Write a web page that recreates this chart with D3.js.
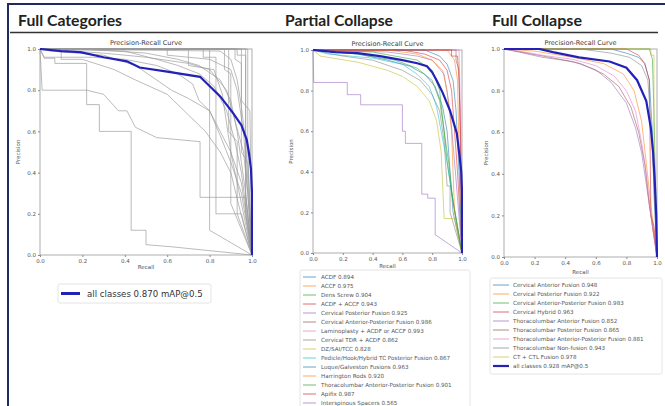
<!DOCTYPE html>
<html><head><meta charset="utf-8">
<script src="https://cdn.jsdelivr.net/npm/d3@7/dist/d3.min.js"></script>
<style>
html,body{margin:0;padding:0;background:#fff;}
svg{display:block;font-family:"DejaVu Sans",sans-serif;}
</style></head>
<body>
<svg id="chart" width="665" height="406"></svg>
<script>
// ---------------- DATA ----------------
const panelTitles = ["Full Categories", "Partial Collapse", "Full Collapse"];
const axisTicks = [0, 0.2, 0.4, 0.6, 0.8, 1.0];

// Panel 1: Full Categories (grey per-class curves, recall/precision pairs)
const fullCatCurves = [
  [[0,1],[0.01,0.8],[0.22,0.8],[0.22,0.73],[0.28,0.73],[0.28,0.6],[0.43,0.6],[0.43,0.12],[0.5,0.12],[0.5,0.05],[0.62,0.04],[1,0]],
  [[0,1],[0.02,0.955],[0.07,0.955],[0.07,0.93],[0.22,0.93],[0.22,0.8],[0.3,0.78],[0.37,0.7],[0.41,0.7],[0.45,0.62],[0.55,0.57],[0.755,0.55],[0.755,0.28],[0.97,0.28],[1,0]],
  [[0,1],[0.05,0.99],[0.3,0.97],[0.45,0.92],[0.55,0.85],[0.62,0.8],[0.7,0.76],[0.8,0.7],[0.85,0.58],[0.9,0.45],[0.95,0.3],[1,0]],
  [[0,1],[0.4,0.99],[0.55,0.95],[0.65,0.92],[0.75,0.88],[0.82,0.82],[0.88,0.7],[0.92,0.55],[0.95,0.4],[1,0]],
  [[0,1],[0.77,1],[0.77,0.96],[0.83,0.96],[0.83,0.2],[0.95,0.2],[1,0]],
  [[0,1],[0.87,1],[0.87,0.9],[0.9,0.88],[0.9,0.25],[1,0]],
  [[0,1],[0.92,1],[0.92,0.95],[0.95,0.93],[0.95,0.5],[0.98,0.45],[1,0]],
  [[0,1],[0.6,1],[0.6,0.97],[0.8,0.95],[0.9,0.9],[0.93,0.8],[0.96,0.6],[1,0]],
  [[0,1],[0.3,0.98],[0.5,0.96],[0.7,0.93],[0.8,0.9],[0.88,0.8],[0.92,0.65],[0.96,0.5],[0.98,0.3],[1,0]],
  [[0,1],[0.02,0.96],[0.25,0.96],[0.4,0.95],[0.55,0.92],[0.65,0.88],[0.72,0.83],[0.75,0.75],[0.8,0.7],[0.85,0.6],[0.9,0.5],[0.95,0.35],[1,0]],
  [[0,1],[0.8,1],[0.8,0.12],[1,0]],
  [[0,1],[0.93,1],[0.93,0.97],[0.97,0.97],[0.97,0.2],[1,0]],
  [[0,1],[0.97,1],[0.97,0.3],[1,0]],
  [[0,1],[0.85,0.99],[0.9,0.95],[0.93,0.85],[0.95,0.72],[0.97,0.55],[1,0]],
  [[0,1],[0.2,1],[0.5,0.98],[0.65,0.95],[0.75,0.92],[0.85,0.85],[0.9,0.75],[0.93,0.6],[0.95,0.45],[0.97,0.3],[1,0]],
  [[0,1],[0.7,1],[0.7,0.92],[0.82,0.9],[0.86,0.78],[0.9,0.5],[0.93,0.35],[1,0]],
  [[0,1],[0.1,1],[0.1,0.95],[0.2,0.95],[0.35,0.9],[0.45,0.85],[0.6,0.78],[0.7,0.68],[0.78,0.6],[0.85,0.5],[0.9,0.4],[0.95,0.19],[1,0]],
  [[0,1],[0.89,1],[0.89,0.6],[0.93,0.55],[0.93,0.2],[1,0]],
  [[0,1],[0.98,1],[0.98,0.5],[1,0]],
  [[0,1],[0.95,1],[0.95,0.75],[0.99,0.7],[1,0]]
];
const fullCatAll = [[0,1],[0.1,0.99],[0.19,0.985],[0.3,0.96],[0.41,0.94],[0.47,0.91],[0.6,0.89],[0.755,0.865],[0.79,0.83],[0.85,0.77],[0.91,0.69],[0.95,0.63],[0.975,0.56],[0.985,0.5],[0.995,0.42],[1,0.3],[1,0]];
const fullCatAllLabel = "all classes 0.870 mAP@0.5";

// Panel 2: Partial Collapse
const partialNames = ["ACDF","ACCF","Dens Screw","ACDF + ACCF","Cervical Posterior Fusion","Cervical Anterior-Posterior Fusion","Laminoplasty + ACDF or ACCF","Cervical TDR + ACDF","DZ/SAI/TCC","Pedicle/Hook/Hybrid TC Posterior Fusion","Luque/Galveston Fusions","Harrington Rods","Thoracolumbar Anterior-Posterior Fusion","Apifix","Interspinous Spacers"];
const partialAP = [0.894,0.975,0.904,0.943,0.925,0.986,0.993,0.862,0.828,0.867,0.963,0.920,0.901,0.987,0.565];
const partialCurves = [
  [[0,1],[0.3,0.98],[0.5,0.95],[0.65,0.92],[0.75,0.88],[0.82,0.82],[0.87,0.72],[0.9,0.6],[0.92,0.4],[0.94,0.2],[1,0]],
  [[0,1],[0.9,1],[0.92,0.98],[0.95,0.95],[0.97,0.85],[0.98,0.5],[1,0]],
  [[0,1],[0.4,0.99],[0.55,0.97],[0.7,0.95],[0.8,0.9],[0.85,0.8],[0.88,0.6],[0.9,0.45],[0.93,0.3],[1,0]],
  [[0,1],[0.6,1],[0.75,0.98],[0.85,0.95],[0.9,0.9],[0.93,0.8],[0.95,0.6],[0.97,0.4],[1,0]],
  [[0,1],[0.5,0.99],[0.7,0.97],[0.8,0.95],[0.88,0.88],[0.92,0.7],[0.95,0.45],[1,0]],
  [[0,1],[0.96,1],[0.96,0.95],[0.98,0.9],[0.99,0.5],[1,0]],
  [[0,1],[0.98,1],[0.99,0.7],[1,0]],
  [[0,1],[0.2,0.97],[0.4,0.95],[0.6,0.9],[0.72,0.85],[0.8,0.78],[0.85,0.7],[0.88,0.55],[0.9,0.33],[0.92,0.33],[0.92,0.2],[1,0]],
  [[0,1],[0.05,0.97],[0.3,0.94],[0.5,0.9],[0.6,0.87],[0.7,0.82],[0.78,0.75],[0.83,0.65],[0.86,0.5],[0.88,0.17],[0.95,0.17],[1,0]],
  [[0,1],[0.1,0.98],[0.4,0.96],[0.6,0.93],[0.7,0.88],[0.78,0.82],[0.83,0.72],[0.86,0.6],[0.9,0.45],[0.93,0.3],[1,0]],
  [[0,1],[0.75,1],[0.85,0.97],[0.9,0.93],[0.94,0.85],[0.96,0.7],[0.98,0.4],[1,0]],
  [[0,1],[0.5,1],[0.7,0.98],[0.8,0.95],[0.87,0.9],[0.9,0.8],[0.93,0.6],[0.95,0.2],[1,0]],
  [[0,1],[0.3,0.98],[0.55,0.95],[0.7,0.91],[0.8,0.85],[0.85,0.75],[0.88,0.6],[0.91,0.45],[0.94,0.25],[1,0]],
  [[0,1],[0.93,1],[0.93,0.97],[0.97,0.97],[0.98,0.85],[0.99,0.6],[1,0]],
  [[0,1],[0.005,0.84],[0.23,0.84],[0.23,0.78],[0.32,0.78],[0.32,0.73],[0.6,0.73],[0.6,0.6],[0.62,0.6],[0.62,0.54],[0.73,0.54],[0.73,0.29],[0.77,0.29],[0.77,0.27],[0.82,0.27],[0.82,0.09],[1,0]]
];
const partialAll = [[0,1],[0.15,0.99],[0.3,0.985],[0.45,0.97],[0.6,0.95],[0.7,0.935],[0.765,0.92],[0.8,0.89],[0.83,0.85],[0.87,0.79],[0.92,0.7],[0.945,0.64],[0.965,0.59],[0.985,0.47],[0.995,0.4],[1,0.3],[1,0]];

// Panel 3: Full Collapse
const fullNames = ["Cervical Anterior Fusion","Cervical Posterior Fusion","Cervical Anterior-Posterior Fusion","Cervical Hybrid","Thoracolumbar Anterior Fusion","Thoracolumbar Posterior Fusion","Thoracolumbar Anterior-Posterior Fusion","Thoracolumbar Non-fusion","CT + CTL Fusion"];
const fullAP = [0.948,0.922,0.983,0.963,0.852,0.865,0.881,0.943,0.978];
const fullCurves = [
  [[0,1],[0.7,1],[0.8,0.98],[0.88,0.96],[0.92,0.93],[0.95,0.85],[0.97,0.6],[0.98,0.3],[1,0]],
  [[0,1],[0.2,0.99],[0.45,0.96],[0.65,0.93],[0.78,0.88],[0.85,0.8],[0.9,0.65],[0.93,0.45],[0.96,0.25],[1,0]],
  [[0,1],[0.95,1],[0.97,0.95],[0.98,0.7],[1,0]],
  [[0,1],[0.8,1],[0.88,0.97],[0.92,0.93],[0.95,0.85],[0.96,0.2],[0.98,0.15],[1,0]],
  [[0,1],[0.1,0.985],[0.25,0.96],[0.45,0.94],[0.6,0.9],[0.7,0.84],[0.8,0.74],[0.86,0.62],[0.9,0.5],[0.93,0.35],[0.96,0.2],[1,0]],
  [[0,1],[0.15,0.98],[0.3,0.96],[0.5,0.93],[0.65,0.88],[0.75,0.82],[0.83,0.72],[0.88,0.6],[0.92,0.45],[0.95,0.25],[1,0]],
  [[0,1],[0.1,0.99],[0.25,0.97],[0.45,0.95],[0.6,0.92],[0.72,0.87],[0.8,0.8],[0.86,0.7],[0.9,0.55],[0.93,0.4],[0.96,0.2],[1,0]],
  [[0,1],[0.5,1],[0.7,0.98],[0.82,0.96],[0.9,0.92],[0.94,0.85],[0.96,0.65],[0.98,0.35],[1,0]],
  [[0,1],[0.96,1],[0.96,0.97],[0.98,0.97],[0.98,0.5],[1,0]]
];
const fullAll = [[0,1],[0.23,1],[0.32,0.985],[0.49,0.96],[0.69,0.94],[0.8,0.91],[0.87,0.85],[0.93,0.75],[0.96,0.62],[0.975,0.5],[0.985,0.37],[0.995,0.2],[1,0]];
const fullAllAP = 0.928;

const tab10 = ["#1f77b4","#ff7f0e","#2ca02c","#d62728","#9467bd","#8c564b","#e377c2","#7f7f7f","#bcbd22","#17becf"];

// ---------------- LAYOUT ----------------
const svg = d3.select("#chart");
const navy = "#1e2b5e";
svg.append("line").attr("x1",7).attr("x2",665).attr("y1",4).attr("y2",4).attr("stroke",navy).attr("stroke-width",2);
svg.append("line").attr("x1",8).attr("x2",8).attr("y1",4).attr("y2",406).attr("stroke",navy).attr("stroke-width",2);
svg.append("line").attr("x1",10).attr("x2",658).attr("y1",32.5).attr("y2",32.5).attr("stroke","#333").attr("stroke-width",1.5);

const titleLayout = [{x:18,w:104},{x:285,w:108},{x:492,w:90}];
panelTitles.forEach((t,i)=>{
  svg.append("text").attr("x",titleLayout[i].x).attr("y",26)
    .attr("font-family","Lato, 'Open Sans', sans-serif").attr("font-weight","bold").attr("font-size",15)
    .attr("fill","#222").attr("textLength",titleLayout[i].w).attr("lengthAdjust","spacingAndGlyphs").text(t);
});

function drawPanel(box, ylabX, xlabY) {
  const x = d3.scaleLinear().domain([0,1]).range([box.x0, box.x1]);
  const y = d3.scaleLinear().domain([0,1]).range([box.y1, box.y0]);
  const g = svg.append("g");
  const fmt = d3.format(".1f");
  const ax = g.append("g").attr("transform",`translate(0,${box.y1})`)
    .call(d3.axisBottom(x).tickValues(axisTicks).tickFormat(fmt).tickSize(2).tickPadding(2));
  const ay = g.append("g").attr("transform",`translate(${box.x0},0)`)
    .call(d3.axisLeft(y).tickValues(axisTicks).tickFormat(fmt).tickSize(2).tickPadding(2));
  [ax,ay].forEach(a=>{
    a.select(".domain").remove();
    a.selectAll("line").attr("stroke","#888");
    a.selectAll("text").attr("font-size",5.5).attr("fill","#555").attr("font-family","DejaVu Sans, sans-serif");
  });
  g.append("rect").attr("x",box.x0).attr("y",box.y0).attr("width",box.x1-box.x0).attr("height",box.y1-box.y0)
    .attr("fill","none").attr("stroke","#999").attr("stroke-width",0.8);
  g.append("text").attr("x",(box.x0+box.x1)/2).attr("y",box.y0-4).attr("text-anchor","middle")
    .attr("font-size",6.5).attr("fill","#3a3a3a").text("Precision-Recall Curve");
  g.append("text").attr("x",(box.x0+box.x1)/2).attr("y",xlabY).attr("text-anchor","middle")
    .attr("font-size",5.5).attr("fill","#555").text("Recall");
  g.append("text").attr("transform",`translate(${ylabX},${(box.y0+box.y1)/2}) rotate(-90)`).attr("text-anchor","middle")
    .attr("font-size",5.5).attr("fill","#555").text("Precision");
  const clip = "clip"+Math.round(box.x0);
  svg.append("clipPath").attr("id",clip).append("rect").attr("x",box.x0-1).attr("y",box.y0-1).attr("width",box.x1-box.x0+2).attr("height",box.y1-box.y0+2);
  const curves = svg.append("g").attr("clip-path",`url(#${clip})`);
  const line = d3.line().x(d=>x(d[0])).y(d=>y(d[1]));
  return {x,y,curves,line};
}

// Panel 1
const P1 = drawPanel({x0:40,x1:252,y0:49,y1:255}, 20, 269);
fullCatCurves.forEach(c=>{
  P1.curves.append("path").attr("d",P1.line(c)).attr("fill","none").attr("stroke","#9a9a9a").attr("stroke-width",0.8).attr("opacity",0.85);
});
P1.curves.append("path").attr("d",P1.line(fullCatAll)).attr("fill","none").attr("stroke","#2222b8").attr("stroke-width",2.2);
const lg1 = svg.append("g");
lg1.append("rect").attr("x",58).attr("y",284).attr("width",153).attr("height",19).attr("rx",2).attr("fill","#fff").attr("stroke","#ddd").attr("stroke-width",0.8);
lg1.append("line").attr("x1",61).attr("x2",80).attr("y1",293.5).attr("y2",293.5).attr("stroke","#2222b8").attr("stroke-width",3);
lg1.append("text").attr("x",87).attr("y",297).attr("font-size",8.6).attr("fill","#333").text(fullCatAllLabel);

// Panel 2
const P2 = drawPanel({x0:313,x1:462,y0:50,y1:253}, 293, 268);
partialCurves.forEach((c,i)=>{
  P2.curves.append("path").attr("d",P2.line(c)).attr("fill","none").attr("stroke",tab10[i%10]).attr("stroke-width",0.8).attr("opacity",0.7);
});
P2.curves.append("path").attr("d",P2.line(partialAll)).attr("fill","none").attr("stroke","#2222b8").attr("stroke-width",2.2);
const lg2 = svg.append("g");
lg2.append("rect").attr("x",300).attr("y",270).attr("width",170).attr("height",145).attr("rx",2).attr("fill","#fff").attr("stroke","#ddd").attr("stroke-width",0.8);
partialNames.forEach((n,i)=>{
  const yy = 277 + i*9;
  lg2.append("line").attr("x1",303).attr("x2",316).attr("y1",yy).attr("y2",yy).attr("stroke",tab10[i%10]).attr("stroke-width",0.9).attr("opacity",0.75);
  lg2.append("text").attr("x",321).attr("y",yy+2).attr("font-size",5.6).attr("fill","#555").text(`${n} ${partialAP[i].toFixed(3)}`);
});

// Panel 3
const P3 = drawPanel({x0:504,x1:657,y0:49,y1:257}, 488, 274);
fullCurves.forEach((c,i)=>{
  P3.curves.append("path").attr("d",P3.line(c)).attr("fill","none").attr("stroke",tab10[i%10]).attr("stroke-width",0.8).attr("opacity",0.7);
});
P3.curves.append("path").attr("d",P3.line(fullAll)).attr("fill","none").attr("stroke","#2222b8").attr("stroke-width",2.2);
const lg3 = svg.append("g");
lg3.append("rect").attr("x",490).attr("y",278).attr("width",172).attr("height",96).attr("rx",2).attr("fill","#fff").attr("stroke","#ddd").attr("stroke-width",0.8);
fullNames.forEach((n,i)=>{
  const yy = 285 + i*9;
  lg3.append("line").attr("x1",493).attr("x2",509).attr("y1",yy).attr("y2",yy).attr("stroke",tab10[i%10]).attr("stroke-width",0.9).attr("opacity",0.75);
  lg3.append("text").attr("x",513).attr("y",yy+2).attr("font-size",5.6).attr("fill","#555").text(`${n} ${fullAP[i].toFixed(3)}`);
});
{
  const yy = 285 + fullNames.length*9;
  lg3.append("line").attr("x1",493).attr("x2",509).attr("y1",yy).attr("y2",yy).attr("stroke","#2222b8").attr("stroke-width",2.2);
  lg3.append("text").attr("x",513).attr("y",yy+2).attr("font-size",5.6).attr("fill","#555").text(`all classes ${fullAllAP.toFixed(3)} mAP@0.5`);
}
</script>
</body></html>
